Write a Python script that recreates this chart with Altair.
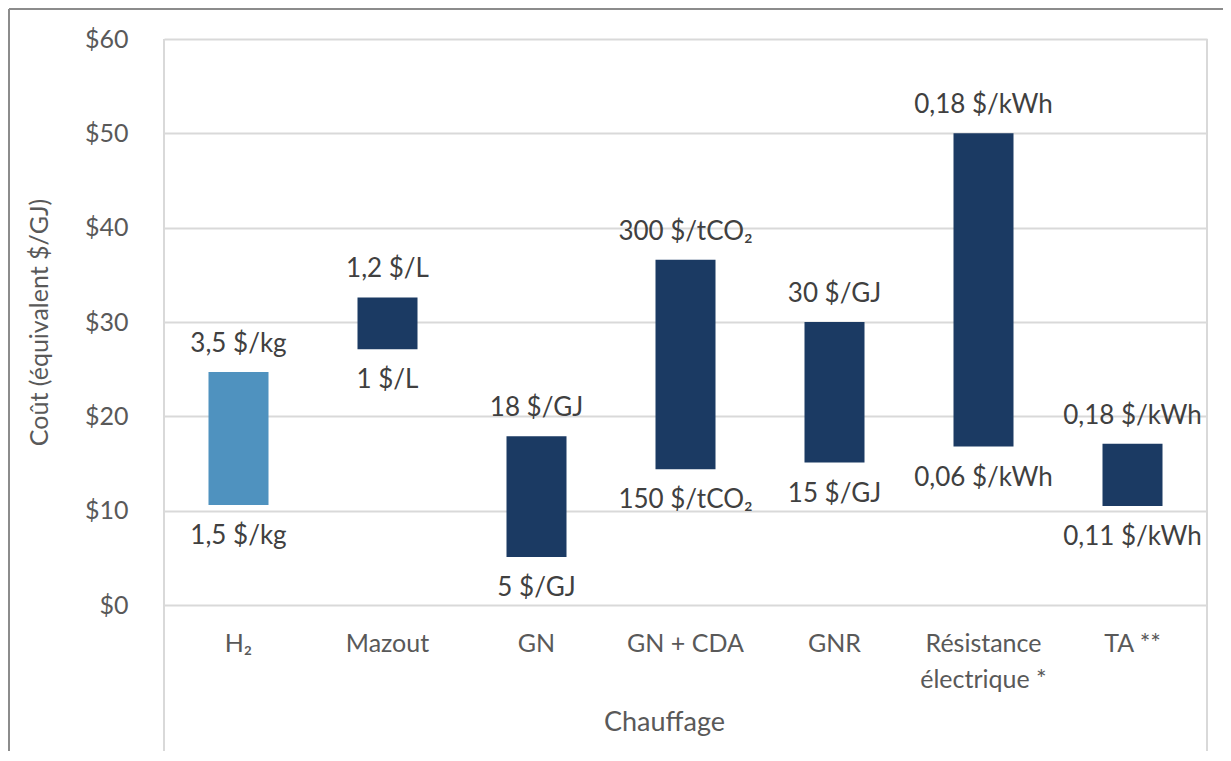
import altair as alt
import pandas as pd

categories = ["H₂", "Mazout", "GN", "GN + CDA", "GNR", "Résistance électrique *", "TA **"]
low = [10.6, 27.1, 5.1, 14.4, 15.1, 16.8, 10.5]
high = [24.7, 32.6, 17.9, 36.6, 30.0, 50.0, 17.1]
low_labels = ["1,5 $/kg", "1 $/L", "5 $/GJ", "150 $/tCO₂", "15 $/GJ", "0,06 $/kWh", "0,11 $/kWh"]
high_labels = ["3,5 $/kg", "1,2 $/L", "18 $/GJ", "300 $/tCO₂", "30 $/GJ", "0,18 $/kWh", "0,18 $/kWh"]
y_ticks = [0, 10, 20, 30, 40, 50, 60]

df = pd.DataFrame({
    "cat": categories,
    "low": low,
    "high": high,
    "low_label": low_labels,
    "high_label": high_labels,
})

FONT = "Lato"
GREY = "#595959"
W, H = 1043, 566

x_enc = alt.X(
    "cat:N",
    sort=categories,
    title="Chauffage",
    scale=alt.Scale(paddingInner=0, paddingOuter=0),
    axis=alt.Axis(
        labelAngle=0,
        ticks=False,
        domain=False,
        grid=False,
        labelPadding=26,
        labelFontSize=25,
        labelColor=GREY,
        labelFont=FONT,
        labelLimit=0,
        labelLineHeight=36,
        labelBaseline="top",
        labelExpr="datum.label == 'Résistance électrique *' ? ['Résistance', 'électrique *'] : datum.label",
        titleFontSize=27,
        titleFontWeight="normal",
        titleColor=GREY,
        titleFont=FONT,
        titlePadding=17,
        titleX=500,
    ),
)

y_scale = alt.Scale(domain=[0, 60])

bars = alt.Chart(df).mark_bar(size=60).encode(
    x=x_enc,
    y=alt.Y(
        "low:Q",
        scale=y_scale,
        title="Coût (équivalent $/GJ)",
        axis=alt.Axis(
            values=y_ticks,
            labelExpr="'$' + datum.value",
            ticks=False,
            domain=False,
            grid=True,
            gridColor="#D9D9D9",
            gridWidth=2,
            labelPadding=36,
            labelFontSize=25,
            labelColor=GREY,
            labelFont=FONT,
            titleFontSize=25,
            titleFontWeight="normal",
            titleColor=GREY,
            titleFont=FONT,
            titlePadding=32,
        ),
    ),
    y2="high:Q",
    color=alt.condition(alt.datum.cat == "H₂", alt.value("#4F92BF"), alt.value("#1B3A63")),
)

top_text = alt.Chart(df).mark_text(
    baseline="middle", dy=-28, fontSize=26, font=FONT, color="#404040"
).encode(x=alt.X("cat:N", sort=categories), y=alt.Y("high:Q", scale=y_scale), text="high_label:N")

bot_text = alt.Chart(df).mark_text(
    baseline="middle", dy=31, fontSize=26, font=FONT, color="#404040"
).encode(x=alt.X("cat:N", sort=categories), y=alt.Y("low:Q", scale=y_scale), text="low_label:N")

one = pd.DataFrame({"k": [0]})
left_line = alt.Chart(one).mark_rule(color="#D9D9D9", strokeWidth=2).encode(
    x=alt.value(0), y=alt.value(0), y2=alt.value(714)
)
right_line = alt.Chart(one).mark_rule(color="#D9D9D9", strokeWidth=2).encode(
    x=alt.value(W), y=alt.value(0), y2=alt.value(730)
)
frame_top = alt.Chart(one).mark_rule(color="#8C8C8C", strokeWidth=2).encode(
    x=alt.value(-155), x2=alt.value(1080), y=alt.value(-30)
)
frame_left = alt.Chart(one).mark_rule(color="#8C8C8C", strokeWidth=2).encode(
    x=alt.value(-155), y=alt.value(-30), y2=alt.value(730)
)

chart = alt.layer(left_line, right_line, frame_top, frame_left, bars, top_text, bot_text).properties(
    width=W,
    height=H,
    autosize=alt.AutoSizeParams(type="none"),
    padding={"left": 156, "top": 31, "right": 16, "bottom": 146},
).configure_view(stroke=None).configure(font=FONT)

chart.save("out.html", embed_options={"renderer": "svg", "actions": False})
